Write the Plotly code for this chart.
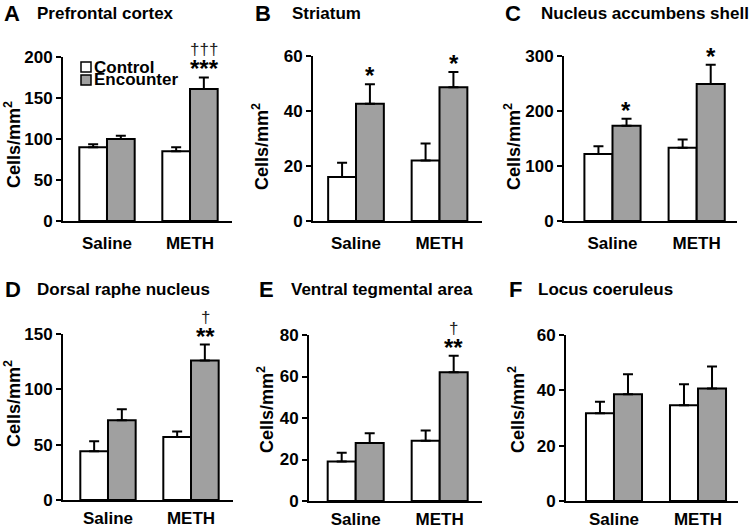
import plotly.graph_objects as go

# ---------------- data ----------------
categories = ["Saline", "METH"]
series_names = ["Control", "Encounter"]

panel_letters = ["A", "B", "C", "D", "E", "F"]
panel_titles = ["Prefrontal cortex", "Striatum", "Nucleus accumbens shell",
                "Dorsal raphe nucleus", "Ventral tegmental area", "Locus coeruleus"]
y_title = "Cells/mm<sup>2</sup>"

pfc_control = [90, 85]
pfc_control_sem = [3.5, 5]
pfc_encounter = [100, 161]
pfc_encounter_sem = [4, 14]
pfc_ticks = [0, 50, 100, 150, 200]
pfc_stars = ["", "***"]
pfc_daggers = ["", "†††"]

str_control = [16, 22]
str_control_sem = [5.2, 6.2]
str_encounter = [42.6, 48.6]
str_encounter_sem = [7.1, 5.6]
str_ticks = [0, 20, 40, 60]
str_stars = ["*", "*"]
str_daggers = ["", ""]

nac_control = [122, 133]
nac_control_sem = [14, 15]
nac_encounter = [173, 249]
nac_encounter_sem = [13, 35]
nac_ticks = [0, 100, 200, 300]
nac_stars = ["*", "*"]
nac_daggers = ["", ""]

drn_control = [44, 57]
drn_control_sem = [9, 5]
drn_encounter = [72, 126]
drn_encounter_sem = [10, 14.5]
drn_ticks = [0, 50, 100, 150]
drn_stars = ["", "**"]
drn_daggers = ["", "†"]

vta_control = [19, 29]
vta_control_sem = [4.3, 5]
vta_encounter = [28, 62]
vta_encounter_sem = [4.6, 8]
vta_ticks = [0, 20, 40, 60, 80]
vta_stars = ["", "**"]
vta_daggers = ["", "†"]

lc_control = [31.7, 34.6]
lc_control_sem = [4.2, 7.6]
lc_encounter = [38.6, 40.7]
lc_encounter_sem = [7.2, 7.9]
lc_ticks = [0, 20, 40, 60]
lc_stars = ["", ""]
lc_daggers = ["", ""]

panels_data = [
    (pfc_control, pfc_control_sem, pfc_encounter, pfc_encounter_sem, pfc_ticks, pfc_stars, pfc_daggers),
    (str_control, str_control_sem, str_encounter, str_encounter_sem, str_ticks, str_stars, str_daggers),
    (nac_control, nac_control_sem, nac_encounter, nac_encounter_sem, nac_ticks, nac_stars, nac_daggers),
    (drn_control, drn_control_sem, drn_encounter, drn_encounter_sem, drn_ticks, drn_stars, drn_daggers),
    (vta_control, vta_control_sem, vta_encounter, vta_encounter_sem, vta_ticks, vta_stars, vta_daggers),
    (lc_control, lc_control_sem, lc_encounter, lc_encounter_sem, lc_ticks, lc_stars, lc_daggers),
]

# ---------------- layout / style ----------------
W, H = 755, 528
FONT = "Liberation Sans, Arial, sans-serif"
NARROW = "Liberation Sans Narrow, Arial Narrow, sans-serif"
GRAY = "#a0a0a0"
FILLS = ["white", GRAY]

# plot area in pixels: (x0, x1, ytop, ybottom), category range, label standoff,
# y-title centre (px), letter x, title x, header y
panel_geom = [
    dict(box=(63, 232, 57, 221), xr=(-0.530, 1.506), stand=6, yt=(12, 145), lx=2, tx=35, hy=13),
    dict(box=(313, 482, 56, 221), xr=(-0.515, 1.509), stand=6, yt=(261, 147), lx=253, tx=290, hy=13),
    dict(box=(564, 737, 56, 221), xr=(-0.576, 1.479), stand=6, yt=(513, 147), lx=503, tx=539, hy=13),
    dict(box=(63, 233, 334, 500), xr=(-0.542, 1.506), stand=2, yt=(12, 404), lx=3, tx=35, hy=289),
    dict(box=(309, 482, 335, 501), xr=(-0.556, 1.504), stand=2, yt=(265, 410), lx=257, tx=289, hy=289),
    dict(box=(566, 738, 335, 501), xr=(-0.571, 1.476), stand=2, yt=(516, 410), lx=507, tx=536, hy=289),
]


def xp(px):
    return px / W


def yp(py):
    return 1 - py / H


fig = go.Figure()
annotations = []
shapes = []

for i, (data, g) in enumerate(zip(panels_data, panel_geom)):
    ctrl, ctrl_sem, enc, enc_sem, ticks, stars, daggers = data
    n = i + 1
    xa = "x" if n == 1 else f"x{n}"
    ya = "y" if n == 1 else f"y{n}"
    for name, vals, sem, fill in [(series_names[0], ctrl, ctrl_sem, FILLS[0]),
                                  (series_names[1], enc, enc_sem, FILLS[1])]:
        fig.add_trace(go.Bar(
            x=categories, y=vals, name=name, xaxis=xa, yaxis=ya,
            marker=dict(color=fill, line=dict(color="black", width=2)),
            error_y=dict(type="data", array=sem, arrayminus=[0] * len(sem), symmetric=False,
                         color="black", thickness=2, width=5),
            showlegend=False, cliponaxis=False,
        ))
    x0, x1, yt, yb = g["box"]
    axis_common = dict(showgrid=False, zeroline=False, showline=True, linecolor="black",
                       linewidth=2, fixedrange=True, automargin=False)
    fig.layout[("xaxis" if n == 1 else f"xaxis{n}")] = dict(
        axis_common, type="category", range=list(g["xr"]), domain=[xp(x0), xp(x1)],
        anchor=ya, ticks="", ticklabelstandoff=g["stand"],
        tickfont=dict(family=FONT, size=17, color="black", weight="bold"))
    fig.layout[("yaxis" if n == 1 else f"yaxis{n}")] = dict(
        axis_common, range=[0, ticks[-1]], domain=[yp(yb), yp(yt)], anchor=xa,
        tickvals=ticks, ticks="outside", ticklen=5, tickwidth=2, tickcolor="black",
        tickfont=dict(family=FONT, size=17, color="black", weight="bold"))

    # significance marks above Encounter bars
    for k, cat in enumerate(categories):
        top = enc[k] + enc_sem[k]
        if stars[k]:
            annotations.append(dict(x=cat, y=top, xref=xa, yref=ya, text=stars[k], showarrow=False,
                                    xshift=14, yanchor="bottom", yshift=-7,
                                    font=dict(family=FONT, size=24, color="black", weight="bold")))
        if daggers[k]:
            annotations.append(dict(x=cat, y=top, xref=xa, yref=ya, text=daggers[k], showarrow=False,
                                    xshift=14, yanchor="bottom", yshift=16,
                                    font=dict(family=NARROW, size=17, color="#222222")))

    # panel letter and title
    annotations.append(dict(x=xp(g["lx"]), y=yp(g["hy"]), xref="paper", yref="paper",
                            text=panel_letters[i], showarrow=False, xanchor="left", yanchor="middle",
                            font=dict(family=FONT, size=22, color="black", weight="bold")))
    annotations.append(dict(x=xp(g["tx"]), y=yp(g["hy"]), xref="paper", yref="paper",
                            text=panel_titles[i], showarrow=False, xanchor="left", yanchor="middle",
                            font=dict(family=FONT, size=17, color="black", weight="bold")))
    # y-axis title
    annotations.append(dict(x=xp(g["yt"][0]), y=yp(g["yt"][1]), xref="paper", yref="paper",
                            text=y_title, showarrow=False, textangle=-90,
                            xanchor="center", yanchor="middle",
                            font=dict(family=FONT, size=18, color="black", weight="bold")))

# legend drawn inside panel A
legend_rows = [(62, 72), (75, 85)]
for name, fill, (t, b) in zip(series_names, FILLS, legend_rows):
    shapes.append(dict(type="rect", xref="paper", yref="paper",
                       x0=xp(81), x1=xp(91), y0=yp(b), y1=yp(t),
                       fillcolor=fill, line=dict(color="black", width=1.5)))
    annotations.append(dict(x=xp(92), y=yp((t + b) / 2), xref="paper", yref="paper",
                            text=name, showarrow=False, xanchor="left", yanchor="middle",
                            font=dict(family=FONT, size=17, color="black", weight="bold")))

fig.update_layout(
    template="none",
    width=W, height=H, margin=dict(l=0, r=0, t=0, b=0, autoexpand=False),
    paper_bgcolor="white", plot_bgcolor="white",
    barmode="group", bargap=0.333, bargroupgap=0,
    annotations=annotations, shapes=shapes, showlegend=False,
)

fig.write_html("out.html", config={"displayModeBar": False},
               post_script="document.body.style.margin='0px';")
